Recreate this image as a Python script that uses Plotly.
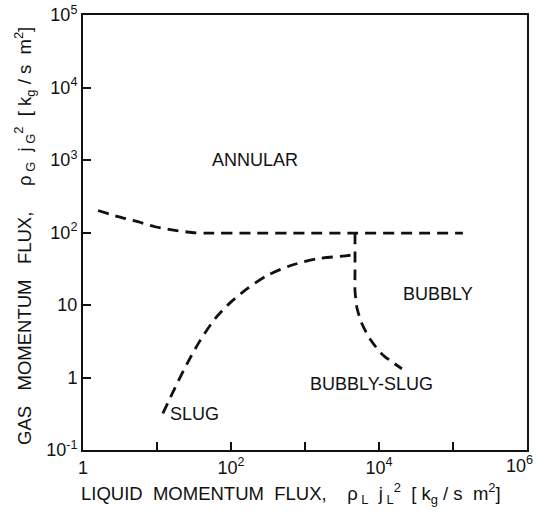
import math
import plotly.graph_objects as go

# Boundary curves
upper_x = [1.6, 2.97, 5.5, 9.4, 15.9, 29.6, 49, 200, 1e3, 4.74e3, 1.36e5]
upper_y = [201, 166, 141, 120, 109, 100, 98, 98, 98, 98, 98]

slug_x = [12.0, 17.5, 25.4, 38, 61, 97, 164, 306, 627, 1450, 3700, 4600]
slug_y = [0.32, 0.72, 1.54, 3.2, 6.5, 10.7, 16.7, 25.4, 34.8, 43.5, 47.9, 50]

bub_x = [4.74e3, 4.74e3, 4.74e3, 5.04e3, 5.89e3, 7.56e3, 1.1e4, 2.04e4]
bub_y = [98, 30, 15.7, 9.1, 5.5, 3.4, 2.1, 1.32]

region_labels = ["ANNULAR", "BUBBLY", "BUBBLY-SLUG", "SLUG"]
region_x = [214, 6.3e4, 7.9e3, 32.6]
region_y = [1000, 14, 0.826, 0.309]

x_tickvals = [1, 1e2, 1e4]
x_ticktext = ["1", "10<sup>2</sup>", "10<sup>4</sup>"]
x_last_tick = 1e6
x_last_text = "10<sup>6</sup>"
x_minor = [10, 1e3, 1e5]
y_tickvals = [0.1, 1, 10, 100, 1e3, 1e4, 1e5]
y_ticktext = ["10<sup>-1</sup>", "1", "10", "10<sup>2</sup>", "10<sup>3</sup>", "10<sup>4</sup>", "10<sup>5</sup>"]

x_title = "LIQUID  MOMENTUM  FLUX,    ρ<sub> L</sub>  j<sub> L</sub><sup>2</sup>  [ k<sub>g</sub> / s  m<sup>2</sup>]"
y_title = "GAS   MOMENTUM   FLUX,     ρ<sub> G</sub>  j<sub> G</sub><sup>2</sup>  [ k<sub>g</sub> / s  m<sup>2</sup>]"

FAM = "Liberation Sans, Arial, Helvetica, sans-serif"

fig = go.Figure()
line = dict(color="#111", width=2.8, dash="11px,7px", shape="spline", smoothing=0.7)
for xs, ys in [(upper_x, upper_y), (slug_x, slug_y), (bub_x, bub_y)]:
    fig.add_trace(go.Scatter(x=xs, y=ys, mode="lines", line=line,
                             showlegend=False, hoverinfo="skip"))

for t, x, y in zip(region_labels, region_x, region_y):
    fig.add_annotation(x=math.log10(x), y=math.log10(y), text=t, showarrow=False,
                       xref="x", yref="y",
                       font=dict(size=18, color="#111", family=FAM))

# last x tick label, nudged left so it stays inside the picture
fig.add_annotation(x=math.log10(x_last_tick), y=0, xref="x", yref="paper", text=x_last_text,
                   xanchor="right", yanchor="middle", xshift=8, yshift=-14, showarrow=False,
                   font=dict(size=18, color="#111", family=FAM))

# axis titles
fig.add_annotation(text=x_title, xref="paper", yref="paper", x=0.468, y=0,
                   xanchor="center", yanchor="middle", yshift=-43, showarrow=False,
                   font=dict(size=18.5, color="#111", family=FAM))
fig.add_annotation(text=y_title, xref="paper", yref="paper", x=0, y=0.492,
                   xanchor="center", yanchor="middle", xshift=-58, textangle=-90,
                   showarrow=False, font=dict(size=18.5, color="#111", family=FAM))

fig.update_layout(
    width=536, height=514,
    margin=dict(l=83, r=9, t=15, b=64),
    paper_bgcolor="white", plot_bgcolor="white",
    font=dict(family=FAM, size=18, color="#111"),
    xaxis=dict(type="log", range=[0, 6], showgrid=False, zeroline=False, automargin=False,
               showline=True, linecolor="#111", linewidth=2, mirror=True,
               ticks="inside", ticklen=8, tickwidth=1.5, tickcolor="#111",
               tickvals=x_tickvals + x_minor + [x_last_tick],
               ticktext=x_ticktext + ["", "", "", ""],
               tickfont=dict(size=18), ticklabeloverflow="allow"),
    yaxis=dict(type="log", range=[-1, 5], showgrid=False, zeroline=False, automargin=False,
               showline=True, linecolor="#111", linewidth=2, mirror=True,
               ticks="inside", ticklen=8, tickwidth=1.5, tickcolor="#111",
               tickvals=y_tickvals, ticktext=y_ticktext,
               tickfont=dict(size=18), ticklabeloverflow="allow"),
)
fig.write_html("out.html", config={"displayModeBar": False},
               post_script="document.body.style.margin='0';")
